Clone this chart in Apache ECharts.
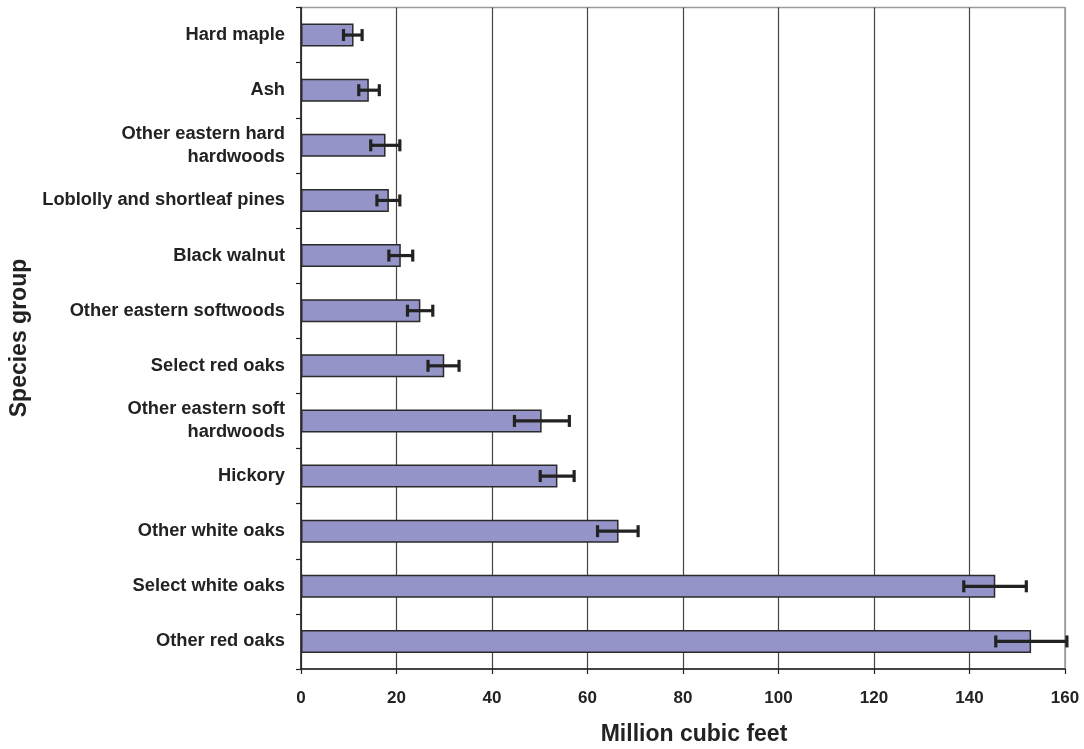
<!DOCTYPE html>
<html>
<head>
<meta charset="utf-8">
<script src="https://cdn.jsdelivr.net/npm/echarts@6/dist/echarts.min.js"></script>
<style>html,body{margin:0;padding:0;background:#fff;}#c{width:1084px;height:749px;}</style>
</head>
<body>
<div id="c"></div>
<script>
// Categories listed bottom to top
var categories = ['Other red oaks','Select white oaks','Other white oaks','Hickory','Other eastern soft\nhardwoods','Select red oaks','Other eastern softwoods','Black walnut','Loblolly and shortleaf pines','Other eastern hard\nhardwoods','Ash','Hard maple'];
var values = [152.9,145.4,66.5,53.7,50.4,30.0,25.0,20.9,18.4,17.7,14.2,11.0];
var errLow = [145.5,138.8,62.1,50.1,44.7,26.6,22.3,18.4,15.9,14.6,12.1,8.9];
var errHigh = [160.4,151.9,70.6,57.2,56.2,33.1,27.6,23.4,20.7,20.7,16.4,12.8];
var xTicks = [0,20,40,60,80,100,120,140,160];

var errData = categories.map(function(c,i){ return [i, errLow[i], errHigh[i]]; });
var font = '"Liberation Sans", Arial, sans-serif';
var chart = echarts.init(document.getElementById('c'), null, {renderer:'canvas'});
chart.setOption({
  animation:false,
  grid:{left:301, right:19, top:7.5, bottom:80, show:true, borderColor:'#9a9a9a', borderWidth:1.5, containLabel:false},
  xAxis:{
    type:'value', min:xTicks[0], max:xTicks[xTicks.length-1], interval:20,
    axisLine:{show:true, lineStyle:{color:'#222', width:1.5}},
    axisTick:{show:true, length:5, lineStyle:{color:'#222', width:1.2}},
    axisLabel:{color:'#222', fontFamily:font, fontWeight:'bold', fontSize:17, margin:21},
    splitLine:{show:true, lineStyle:{color:['#444','#444','#444','#444','#444','#444','#444','#444','#9a9a9a'], width:1.2}}
  },
  yAxis:{
    type:'category', data:categories,
    axisLine:{show:true, lineStyle:{color:'#222', width:1.5}},
    axisTick:{show:true, length:5, lineStyle:{color:'#222', width:1.2}},
    axisLabel:{color:'#222', fontFamily:font, fontWeight:'bold', fontSize:18.3, margin:16, lineHeight:23, align:'right'},
    splitLine:{show:false}
  },
  series:[
    {type:'bar', data:values, barWidth:23,
     itemStyle:{color:'#9494c8', borderColor:'#2a2a2a', borderWidth:1.5}},
    {type:'custom', data:errData, z:10,
     encode:{x:[1,2], y:0},
     renderItem:function(params, api){
       var idx = api.value(0);
       var p1 = api.coord([api.value(1), idx]);
       var p2 = api.coord([api.value(2), idx]);
       var h = 6;
       var st = {stroke:'#222', lineWidth:3.2};
       return {type:'group', children:[
         {type:'line', shape:{x1:p1[0],y1:p1[1],x2:p2[0],y2:p2[1]}, style:st},
         {type:'line', shape:{x1:p1[0],y1:p1[1]-h,x2:p1[0],y2:p1[1]+h}, style:st},
         {type:'line', shape:{x1:p2[0],y1:p2[1]-h,x2:p2[0],y2:p2[1]+h}, style:st}
       ]};
     }}
  ],
  graphic:[
    {type:'text', x:694, y:735, style:{text:'Million cubic feet', fill:'#222', font:'bold 23px '+font, textAlign:'center', textVerticalAlign:'middle'}},
    {type:'text', x:20, y:338, rotation:Math.PI/2, style:{text:'Species group', fill:'#222', font:'bold 23px '+font, textAlign:'center', textVerticalAlign:'middle'}}
  ]
});
</script>
</body>
</html>
